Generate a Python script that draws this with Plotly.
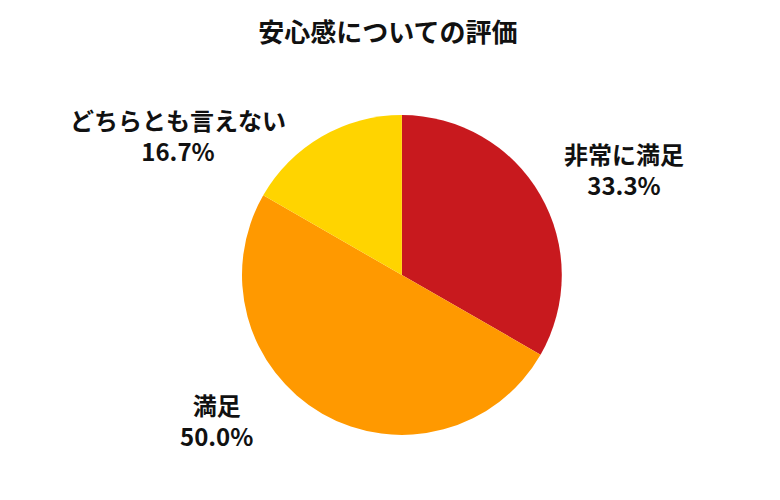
import plotly.graph_objects as go

# data
labels = ["非常に満足", "満足", "どちらとも言えない"]
values = [33.3, 50.0, 16.7]
colors = ["#C8191E", "#FF9900", "#FFD400"]
title = "安心感についての評価"

W, H = 780, 500
dom_x = [0.3, 0.71]
dom_y = [0.146, 0.786]
cx = sum(dom_x) / 2
cy = sum(dom_y) / 2

# label placement relative to the pie centre, in pixels (right, down)
label_offsets = [(222, -106), (-185, 145), (-224, -140)]

fig = go.Figure(go.Pie(
    labels=labels,
    values=values,
    sort=False,
    direction="clockwise",
    rotation=0,
    marker=dict(colors=colors, line=dict(width=0)),
    textinfo="none",
    hoverinfo="label+percent",
    domain=dict(x=dom_x, y=dom_y),
))

font = dict(family="Noto Sans CJK JP", size=24, color="#111111", weight="bold")
for lab, val, (dx, dy) in zip(labels, values, label_offsets):
    fig.add_annotation(
        x=cx + dx / W, y=cy - dy / H, xref="paper", yref="paper",
        text=f"{lab}<br>{val:.1f}%", showarrow=False,
        xanchor="center", yanchor="middle", align="center", font=font,
    )

fig.update_layout(
    width=W, height=H,
    title=dict(text=title, x=0.487, y=0.95, xanchor="center", yanchor="middle",
               font=dict(family="Noto Sans CJK JP", size=26, color="#111111", weight="bold")),
    showlegend=False,
    margin=dict(l=0, r=0, t=0, b=0),
    paper_bgcolor="white",
)

fig.write_html("out.html")
